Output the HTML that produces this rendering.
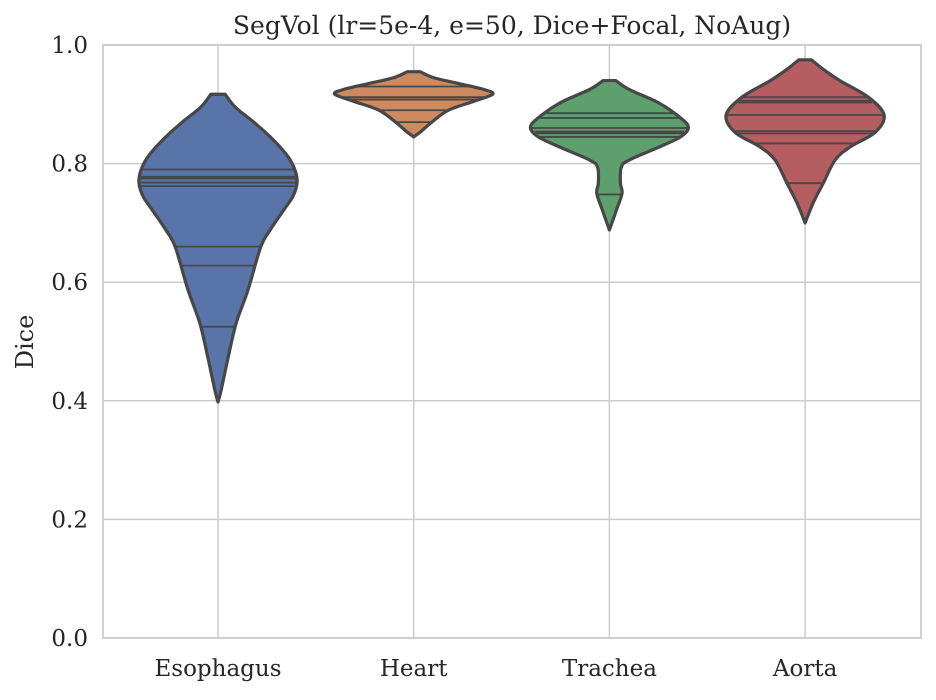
<!DOCTYPE html>
<html><head><meta charset="utf-8"><style>
body{margin:0;background:#fff;}
svg text{font-family:"DejaVu Serif","Liberation Serif",serif;fill:#262626;}
</style></head><body>
<svg id="chart" width="936" height="695" viewBox="0 0 936 695" xmlns="http://www.w3.org/2000/svg">
<rect x="0" y="0" width="936" height="695" fill="#fff"/>
<g id="grid"></g><g id="violins"></g><g id="axes"></g>
</svg>
<script>
const categories = ["Esophagus","Heart","Trachea","Aorta"];
const colors = ["#5874a8","#cd8a60","#5e9f6e","#b55d60"];
const yTicks = [0,0.2,0.4,0.6,0.8,1.0];
const yTickLabels = ["0.0","0.2","0.4","0.6","0.8","1.0"];
// violin profiles: dice values and relative density (1 = widest)
const esoY = [0.917,0.895,0.868,0.84,0.811,0.787,0.767,0.745,0.727,0.688,0.659,0.587,0.531,0.474,0.418,0.398];
const esoD = [0.09,0.22,0.47,0.70,0.89,0.98,1.0,0.95,0.86,0.66,0.54,0.38,0.23,0.13,0.04,0];
const heartY = [0.955,0.945,0.935,0.925,0.917,0.905,0.89,0.87,0.855,0.845];
const heartD = [0.08,0.25,0.57,0.89,1.0,0.76,0.44,0.23,0.10,0];
const trachY = [0.94,0.925,0.902,0.875,0.86,0.845,0.828,0.806,0.794,0.767,0.75,0.722,0.688];
const trachD = [0.08,0.25,0.63,0.92,1.0,0.90,0.63,0.25,0.15,0.14,0.16,0.09,0];
const aortaY = [0.975,0.96,0.94,0.912,0.882,0.853,0.828,0.806,0.767,0.733,0.70];
const aortaD = [0.08,0.22,0.44,0.80,1.0,0.89,0.57,0.38,0.23,0.10,0];
const esoSticks = [0.79,0.778,0.775,0.768,0.762,0.66,0.628,0.525];
const heartSticks = [0.93,0.912,0.908,0.89,0.87];
const trachSticks = [0.885,0.877,0.86,0.854,0.851,0.845,0.748];
const aortaSticks = [0.912,0.906,0.903,0.882,0.855,0.851,0.834,0.767];
const profilesY = [esoY,heartY,trachY,aortaY];
const profilesD = [esoD,heartD,trachD,aortaD];
const sticks = [esoSticks,heartSticks,trachSticks,aortaSticks];

const L=103,R=921,T=45,B=638, maxHW=79;
const yS = v => B - (B-T)*v;
const xS = i => 218 + i*195.7;
const NS="http://www.w3.org/2000/svg";
function mk(tag, attrs, parent){const e=document.createElementNS(NS,tag);for(const k in attrs)e.setAttribute(k,attrs[k]);parent.appendChild(e);return e;}
const grid=document.getElementById('grid'), vg=document.getElementById('violins'), ax=document.getElementById('axes');

yTicks.forEach((t,i)=>{
  const g=mk('line',{x1:L,x2:R,y1:yS(t),y2:yS(t),stroke:'#cccccc','stroke-width':1.5},grid);
  
  
  const tx=mk('text',{x:88,y:yS(t)+8,'text-anchor':'end','font-size':23},ax);
  tx.textContent=yTickLabels[i];
  
  
});
categories.forEach((c,i)=>{
  const g=mk('line',{x1:xS(i),x2:xS(i),y1:T,y2:B,stroke:'#cccccc','stroke-width':1.5},grid);
  
  
  const tx=mk('text',{x:xS(i),y:676,'text-anchor':'middle','font-size':23},ax);
  tx.textContent=c;
  
  
});

function smooth(pts){
  let d='M'+pts[0][0]+','+pts[0][1];
  for(let i=0;i<pts.length-1;i++){
    const p0=pts[Math.max(0,i-1)],p1=pts[i],p2=pts[i+1],p3=pts[Math.min(pts.length-1,i+2)];
    const c1=[p1[0]+(p2[0]-p0[0])/6,p1[1]+(p2[1]-p0[1])/6];
    const c2=[p2[0]-(p3[0]-p1[0])/6,p2[1]-(p3[1]-p1[1])/6];
    d+=' C'+c1[0]+','+c1[1]+' '+c2[0]+','+c2[1]+' '+p2[0]+','+p2[1];
  }
  return d;
}
function hwAt(i,v){
  const ys=profilesY[i],ds=profilesD[i];
  for(let k=0;k<ys.length-1;k++){
    if(v<=ys[k]&&v>=ys[k+1]){const f=(ys[k]-v)/(ys[k]-ys[k+1]);return (ds[k]+(ds[k+1]-ds[k])*f)*maxHW;}
  }
  return 0;
}
categories.forEach((c,i)=>{
  const cx=xS(i), ys=profilesY[i], ds=profilesD[i];
  const right=ys.map((v,k)=>[cx+ds[k]*maxHW,yS(v)]);
  const left=ys.map((v,k)=>[cx-ds[k]*maxHW,yS(v)]).reverse();
  const d=smooth(right)+' L'+left[0][0]+','+left[0][1]+' '+smooth(left).slice(1)+' Z';
  const p=mk('path',{d:d,fill:colors[i],stroke:'#474747','stroke-width':3.2,'stroke-linejoin':'round'},vg);
  
  
  sticks[i].forEach(v=>{
    const hw=hwAt(i,v);
    const s=mk('line',{x1:cx-hw+1,x2:cx+hw-1,y1:yS(v),y2:yS(v),stroke:'#474747','stroke-width':1.8},vg);
    
    
  });
});
const frame=mk('rect',{x:L,y:T,width:R-L,height:B-T,fill:'none',stroke:'#cccccc','stroke-width':1.8},ax);


const title=mk('text',{x:512,y:34,'text-anchor':'middle','font-size':25},ax);
title.textContent='SegVol (lr=5e-4, e=50, Dice+Focal, NoAug)';


const yl=mk('text',{x:0,y:0,'text-anchor':'middle','font-size':24,transform:'translate(33,342) rotate(-90)'},ax);
yl.textContent='Dice';


</script>
</body></html>
